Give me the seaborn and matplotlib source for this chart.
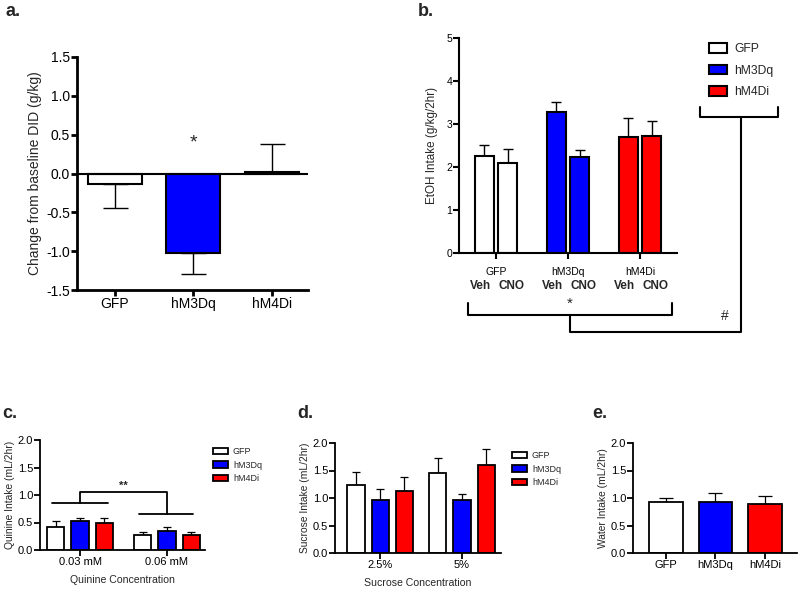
import numpy as np
import pandas as pd
import seaborn as sns
import matplotlib.pyplot as plt
from matplotlib.patches import Patch
from matplotlib.lines import Line2D

sns.set_style("ticks")
plt.rcParams['font.family'] = ['Liberation Sans', 'DejaVu Sans']

# ---- data ----
genotypes = ["GFP", "hM3Dq", "hM4Di"]
colors = {"GFP": "white", "hM3Dq": "#0000ff", "hM4Di": "#ff0000"}

# a. change from baseline DID
change_mean = [-0.13, -1.02, 0.02]
change_sem = [0.32, 0.27, 0.36]

# b. EtOH intake, Veh / CNO per genotype
treatments = ["Veh", "CNO"]
etoh_veh = [2.25, 3.27, 2.70]
etoh_veh_sem = [0.25, 0.23, 0.45]
etoh_cno = [2.10, 2.23, 2.73]
etoh_cno_sem = [0.32, 0.17, 0.35]

# c. quinine
quinine_conc = ["0.03 mM", "0.06 mM"]
quinine_mean = {"GFP": [0.42, 0.27], "hM3Dq": [0.52, 0.34], "hM4Di": [0.49, 0.27]}
quinine_sem = {"GFP": [0.11, 0.06], "hM3Dq": [0.06, 0.08], "hM4Di": [0.09, 0.06]}

# d. sucrose
sucrose_conc = ["2.5%", "5%"]
sucrose_mean = {"GFP": [1.23, 1.46], "hM3Dq": [0.97, 0.96], "hM4Di": [1.12, 1.60]}
sucrose_sem = {"GFP": [0.25, 0.26], "hM3Dq": [0.19, 0.12], "hM4Di": [0.26, 0.30]}

# e. water
water_mean = [0.92, 0.92, 0.89]
water_sem = [0.08, 0.17, 0.15]

W, H = 800, 589
fig = plt.figure(figsize=(8, 5.89), dpi=100)


def px_axes(l, r, t, b):
    return fig.add_axes([l / W, 1 - b / H, (r - l) / W, (b - t) / H])


def style(ax, fs, lw=1.5):
    for s in ["top", "right"]:
        ax.spines[s].set_visible(False)
    for s in ["left", "bottom"]:
        ax.spines[s].set_linewidth(lw)
        ax.spines[s].set_color("black")
    ax.tick_params(width=lw, length=4, labelsize=fs, colors="black", pad=1)


def add_err(ax, sems, capsize, lw=1.0):
    # sems: list per container (hue level) of lists per x
    for cont, errs in zip(ax.containers, sems):
        for bar, e in zip(cont, errs):
            xc = bar.get_x() + bar.get_width() / 2
            h = bar.get_y() + bar.get_height()
            if bar.get_height() < 0 or bar.get_y() < 0:
                h = min(bar.get_y(), bar.get_y() + bar.get_height())
                yerr = [[e], [0]]
            else:
                yerr = [[0], [e]]
            ax.errorbar(xc, h, yerr=yerr, fmt="none", ecolor="black",
                        elinewidth=lw, capsize=capsize, capthick=lw, zorder=1)


def line_px(xs, ys, lw=1.5):
    fig.add_artist(Line2D([x / W for x in xs], [1 - y / H for y in ys],
                          color="black", lw=lw, transform=fig.transFigure))


# ---- a ----
ax = px_axes(77, 308, 57, 290)
df_a = pd.DataFrame({"geno": genotypes, "val": change_mean})
sns.barplot(data=df_a, x="geno", y="val", hue="geno", palette=colors,
            saturation=1, edgecolor="black", linewidth=1.5, width=0.69,
            errorbar=None, legend=False, ax=ax, zorder=2)
add_err(ax, [[e] for e in change_sem], capsize=9)
ax.axhline(0, color="black", lw=1.5, zorder=3)
ax.set_ylim(-1.5, 1.5)
ax.set_yticks(np.arange(-1.5, 1.51, 0.5))
ax.set_yticklabels([f"{v:.1f}" for v in np.arange(-1.5, 1.51, 0.5)])
ax.set_xlim(-0.48, 2.46)
ax.set_xlabel("")
ax.set_ylabel("Change from baseline DID (g/kg)", fontsize=10, labelpad=3)
style(ax, 10, lw=2)
ax.text(1, 0.39, "*", ha="center", va="center", fontsize=14)
fig.text(5 / W, 1 - 12 / H, "a.", fontsize=13, fontweight="bold", va="center")

# ---- b ----
ax = px_axes(459, 677, 38, 253)
df_b = pd.DataFrame({
    "geno": genotypes * 2,
    "trt": ["Veh"] * 3 + ["CNO"] * 3,
    "val": etoh_veh + etoh_cno,
})
sns.barplot(data=df_b, x="geno", y="val", hue="trt", hue_order=treatments,
            saturation=1, edgecolor="black", linewidth=1.5, width=0.64, gap=0.17,
            errorbar=None, legend=False, ax=ax, zorder=2)
for cont in ax.containers:
    for bar, g in zip(cont, genotypes):
        bar.set_facecolor(colors[g])
add_err(ax, [etoh_veh_sem, etoh_cno_sem], capsize=3.5)
ax.set_ylim(0, 5)
ax.set_yticks(range(6))
ax.set_xlim(-0.514, 2.514)
ax.set_xlabel("")
ax.set_ylabel("EtOH Intake (g/kg/2hr)", fontsize=8.4, labelpad=6)
style(ax, 7.5)
ax.tick_params(axis="x", pad=6)
for i in range(len(genotypes)):
    for t, off in zip(treatments, [-0.22, 0.22]):
        ax.text(i + off, -0.77, t, ha="center", va="center", fontsize=8.5,
                fontweight="bold", clip_on=False)
ax.legend(handles=[Patch(facecolor=colors[g], edgecolor="black", lw=1.5, label=g)
                   for g in genotypes],
          loc="upper left", bbox_to_anchor=(698 / W, 1 - 32 / H),
          bbox_transform=fig.transFigure, frameon=False, fontsize=8.7,
          handlelength=1.5, handleheight=0.85, labelspacing=0.8, handletextpad=0.6)
# significance brackets
line_px([468, 468, 672, 672], [303, 315, 315, 303])
line_px([570, 570, 741, 741], [315, 332, 332, 117])
line_px([700, 700, 778, 778], [107, 117, 117, 107])
fig.text(570 / W, 1 - 304 / H, "*", ha="center", va="center", fontsize=11)
fig.text(725 / W, 1 - 316 / H, "#", ha="center", va="center", fontsize=10)
fig.text(418 / W, 1 - 12 / H, "b.", fontsize=13, fontweight="bold", va="center")


def grouped(ax, cats, means, sems, width, gap, capsize, lw=1.3):
    df = pd.DataFrame({
        "conc": cats * 3,
        "geno": np.repeat(genotypes, len(cats)),
        "val": sum([means[g] for g in genotypes], []),
    })
    sns.barplot(data=df, x="conc", y="val", hue="geno", hue_order=genotypes,
                palette=colors, saturation=1, edgecolor="black", linewidth=lw,
                width=width, gap=gap, errorbar=None, legend=False, ax=ax, zorder=2)
    add_err(ax, [sems[g] for g in genotypes], capsize=capsize, lw=0.9)
    ax.set_ylim(0, 2)
    ax.set_yticks(np.arange(0, 2.01, 0.5))
    ax.set_yticklabels([f"{v:.1f}" for v in np.arange(0, 2.01, 0.5)])


def small_legend(ax, x, y):
    ax.legend(handles=[Patch(facecolor=colors[g], edgecolor="black", lw=1.3, label=g)
                       for g in genotypes],
              loc="upper left", bbox_to_anchor=(x / W, 1 - y / H),
              bbox_transform=fig.transFigure, frameon=False, fontsize=6.5,
              handlelength=1.6, handleheight=0.8, labelspacing=0.5, handletextpad=0.6)


# ---- c ----
ax = px_axes(40, 205, 440, 550)
grouped(ax, quinine_conc, quinine_mean, quinine_sem, 0.83, 0.29, 3)
ax.set_xlim(-0.46, 1.437)
ax.set_xlabel("Quinine Concentration", fontsize=7.6, labelpad=6)
ax.set_ylabel("Quinine Intake (mL/2hr)", fontsize=7.4, labelpad=2)
style(ax, 8, lw=1.3)
small_legend(ax, 205, 439)
ax.plot([-0.32, 0.32], [0.85, 0.85], color="black", lw=1.3, clip_on=False)
ax.plot([0.68, 1.30], [0.65, 0.65], color="black", lw=1.3, clip_on=False)
ax.plot([0, 0, 1, 1], [0.85, 1.05, 1.05, 0.65], color="black", lw=1.3, clip_on=False)
ax.text(0.5, 1.17, "**", ha="center", va="center", fontsize=8, fontweight="bold")
fig.text(2 / W, 1 - 413 / H, "c.", fontsize=13, fontweight="bold", va="center")

# ---- d ----
ax = px_axes(335, 501, 443, 553)
grouped(ax, sucrose_conc, sucrose_mean, sucrose_sem, 0.88, 0.29, 3)
ax.set_xlim(-0.55, 1.476)
ax.set_xlabel("Sucrose Concentration", fontsize=7.6, labelpad=6)
ax.set_ylabel("Sucrose Intake (mL/2hr)", fontsize=7.4, labelpad=2)
style(ax, 8, lw=1.3)
small_legend(ax, 504, 443)
fig.text(297 / W, 1 - 413 / H, "d.", fontsize=13, fontweight="bold", va="center")

# ---- e ----
ax = px_axes(633, 797, 443, 553)
df_e = pd.DataFrame({"geno": genotypes, "val": water_mean})
sns.barplot(data=df_e, x="geno", y="val", hue="geno", palette=colors,
            saturation=1, edgecolor="black", linewidth=1.3, width=0.68,
            errorbar=None, legend=False, ax=ax, zorder=2)
add_err(ax, [[e] for e in water_sem], capsize=5, lw=0.9)
ax.set_ylim(0, 2)
ax.set_yticks(np.arange(0, 2.01, 0.5))
ax.set_yticklabels([f"{v:.1f}" for v in np.arange(0, 2.01, 0.5)])
ax.set_xlim(-0.66, 2.64)
ax.set_xlabel("")
ax.set_ylabel("Water Intake (mL/2hr)", fontsize=7.4, labelpad=2)
style(ax, 8, lw=1.3)
fig.text(592 / W, 1 - 413 / H, "e.", fontsize=13, fontweight="bold", va="center")

fig.savefig("out.png", dpi=100)
